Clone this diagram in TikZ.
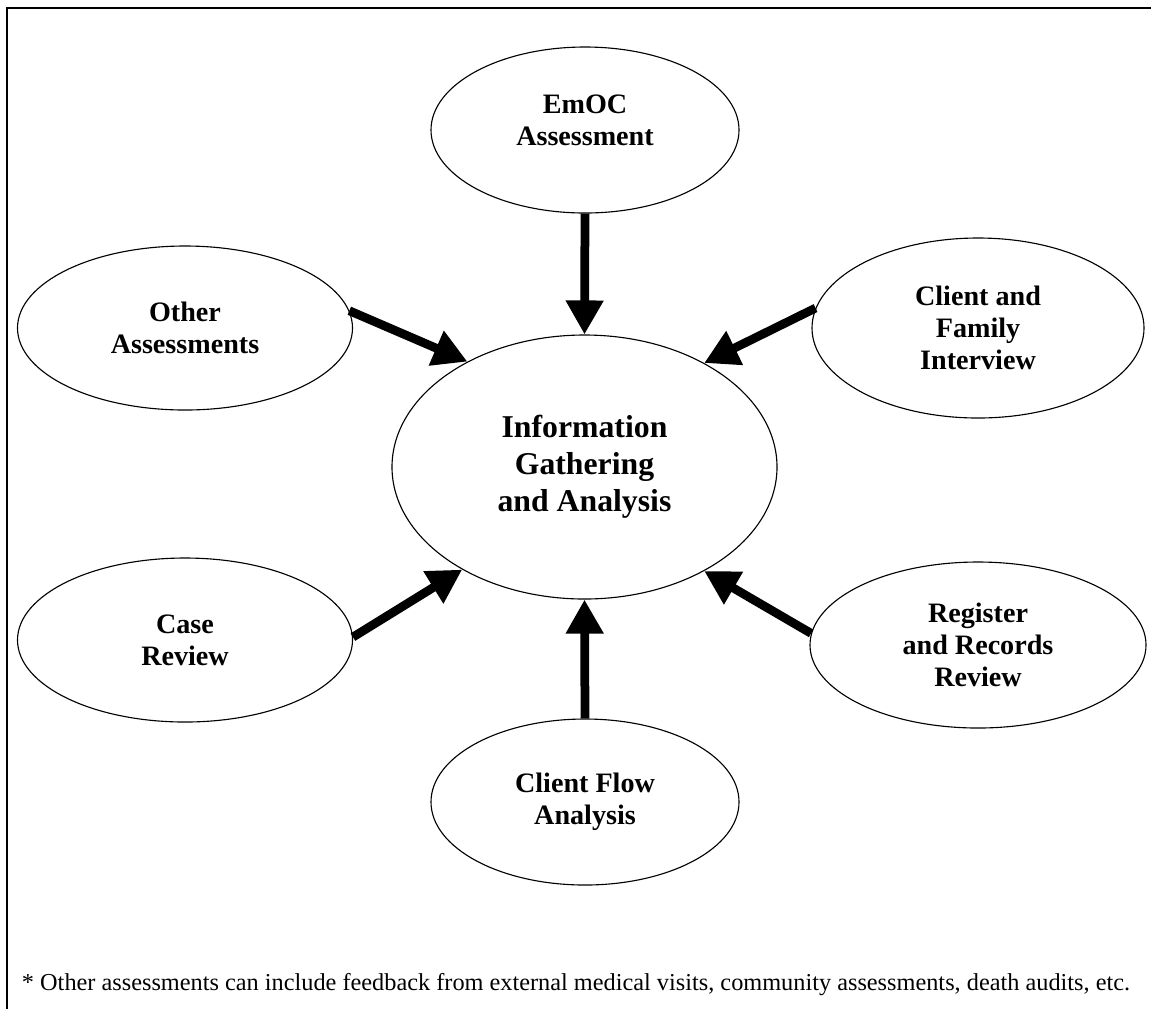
\documentclass[tikz,border=0pt]{standalone}
\usepackage{fontspec}
\setmainfont{Liberation Serif}
\usetikzlibrary{shapes,arrows.meta,positioning}

\begin{document}
\begin{tikzpicture}[x=0.4pt,y=-0.4pt,
    blob/.style={draw, ellipse, line width=0.45pt, align=center, inner sep=0pt,
      font=\fontsize{11.25}{12.9}\selectfont\bfseries},
    feed/.style={line width=3.5pt, -{Triangle[length=13.6pt,width=14.3pt]}}]
  \useasboundingbox (0,0) rectangle (1151,1009);
  \draw[line width=0.8pt] (7,1009) -- (7,8) -- (1151,8);

  \node[blob, minimum width=154pt, minimum height=105.6pt,
    font=\fontsize{12.7}{14.8}\selectfont\bfseries](info) at (584.5,467)
    {Information\\Gathering\\and Analysis};
  \node[blob, minimum width=123.2pt, minimum height=66.4pt, text depth=8pt](emoc) at (585,130)
    {EmOC\\Assessment};
  \node[blob, minimum width=134pt, minimum height=65.6pt](other) at (185,328)
    {Other\\Assessments};
  \node[blob, minimum width=132.8pt, minimum height=72pt](family) at (978,328)
    {Client and\\Family\\Interview};
  \node[blob, minimum width=134pt, minimum height=65.6pt](case) at (185,640)
    {Case\\Review};
  \node[blob, minimum width=134.4pt, minimum height=66.4pt](register) at (978,645)
    {Register\\and Records\\Review};
  \node[blob, minimum width=123.2pt, minimum height=66.4pt](flow) at (585,802)
    {Client Flow\\Analysis};

  \node[font=\fontsize{9.72}{11}\selectfont](note) at (576,985)
    {* Other assessments can include feedback from external medical visits, community assessments, death audits, etc.};

  \draw[feed] (emoc.south) -- (info.north);
  \draw[feed] (other.6) -- (info.138.5);
  \draw[feed] (family.173.7) -- (info.41.5);
  \draw[feed] (case.1.7) -- (info.220.8);
  \draw[feed] (register.176.5) -- (info.-41.8);
  \draw[feed] (flow.north) -- (info.south);
\end{tikzpicture}
\end{document}
